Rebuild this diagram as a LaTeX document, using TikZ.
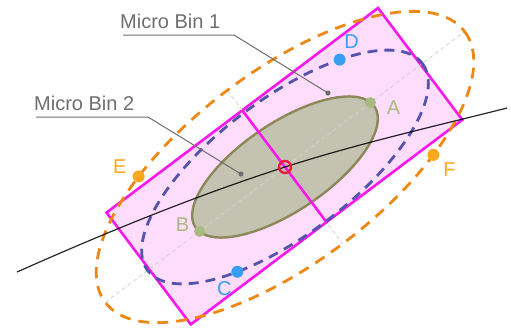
\documentclass[tikz,border=0pt]{standalone}
\usepackage{fontspec}
\setmainfont{Liberation Sans}
\usepackage{xcolor}

\definecolor{binmag}{RGB}{248,24,236}
\definecolor{olivefill}{RGB}{196,194,176}
\definecolor{oliveline}{RGB}{140,136,90}
\definecolor{bluedash}{RGB}{84,84,172}
\definecolor{orangedash}{RGB}{238,136,20}
\definecolor{ptgreen}{RGB}{168,186,128}
\definecolor{ptblue}{RGB}{56,158,244}
\definecolor{ptorange}{RGB}{252,168,30}
\definecolor{centerred}{RGB}{238,28,60}
\definecolor{annogray}{RGB}{110,110,110}

\begin{document}
\begin{tikzpicture}[x=1pt, y=-1pt,
    txt/.style={font=\fontsize{20}{24}\selectfont, inner sep=0pt},
    axisline/.style={draw=black!18, line width=0.8pt, dash pattern=on 4pt off 3pt},
    anno/.style={draw=annogray, line width=1pt}]
  \useasboundingbox (0,0) rectangle (511,330);

  % principal curve
  \coordinate (cL) at (17,272);
  \coordinate (cO) at (285,167);
  \coordinate (cR) at (507,108);

  \begin{scope}[shift={(285,167)}, rotate=37]
    % micro bin 1
    \filldraw[draw=binmag, fill=binmag, fill opacity=0.15, line width=2.6pt] (-170,-71) rectangle (170,69);
    % axes
    \draw[axisline] (-225,0) -- (225,0);
    \draw[axisline] (0,-96) -- (0,96);
    % micro bin 2
    \filldraw[draw=oliveline, fill=olivefill, line width=2.4pt, rotate=-3] (0,0) ellipse [x radius=108, y radius=44];
    \draw[axisline] (-108,0) -- (108,0); % over the ellipse
    \draw[binmag, line width=2.6pt] (0,-71) -- (0,69);
    % dashed ellipses
    \draw[bluedash, line width=2.8pt, dash pattern=on 10pt off 7pt] (0,0) ellipse [x radius=172, y radius=68];
    \draw[orangedash, line width=2.8pt, dash pattern=on 11pt off 8pt] (0,0) ellipse [x radius=225, y radius=96];
    \coordinate (ptA) at (107,0);
    \coordinate (ptB) at (-107,0);
    \coordinate (ptD) at ({172*cos(-51)},{68*sin(-51)});
    \coordinate (ptC) at ({172*cos(126)},{68*sin(126)});
    \coordinate (ptE) at ({225*cos(237)},{96*sin(237)});
    \coordinate (ptF) at ({225*cos(56)},{96*sin(56)});
  \end{scope}

  \draw[black, opacity=0.85, line width=1.2pt] (cL) .. controls (107,232) and (195,196) .. (cO)
    .. controls (360,143) and (432,127) .. (cR);

  % labels for the bins
  \node[txt, text=annogray, anchor=base west] (binOne) at (120,28) {Micro Bin 1};
  \node[txt, text=annogray, anchor=base west] (binTwo) at (34,110) {Micro Bin 2};
  \coordinate (dotOne) at (328,93);
  \coordinate (dotTwo) at (241,174);
  \draw[anno] ([shift={(3,7)}]binOne.base west) -- ++(111,0) -- (dotOne);
  \draw[anno] ([shift={(2,7)}]binTwo.base west) -- ++(112,0) -- (dotTwo);
  \fill[annogray] (dotOne) circle (2.6);
  \fill[annogray] (dotTwo) circle (2.6);

  % points
  \fill[ptgreen] (ptA) circle (5.5);
  \fill[ptgreen] (ptB) circle (5.5);
  \fill[ptblue] (ptD) circle (6);
  \fill[ptblue] (ptC) circle (6);
  \fill[ptorange] (ptE) circle (6);
  \fill[ptorange] (ptF) circle (6);
  \node[txt, text=ptgreen] (lblA) at ([shift={(23,5)}]ptA) {A};
  \node[txt, text=ptgreen] (lblB) at ([shift={(-17,-7)}]ptB) {B};
  \node[txt, text=ptblue] (lblD) at ([shift={(12,-18)}]ptD) {D};
  \node[txt, text=ptblue] (lblC) at ([shift={(-13,17)}]ptC) {C};
  \node[txt, text=ptorange] (lblE) at ([shift={(-19,-10)}]ptE) {E};
  \node[txt, text=ptorange] (lblF) at ([shift={(16,15)}]ptF) {F};

  % center
  \draw[centerred, line width=2.4pt] (cO) circle (6);
\end{tikzpicture}
\end{document}
